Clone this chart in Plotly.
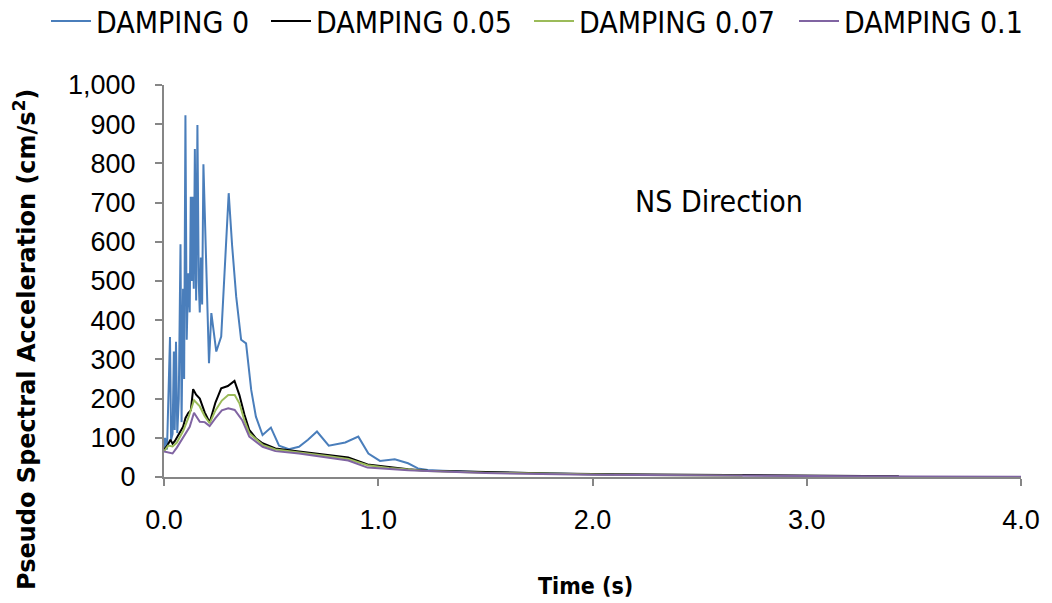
import plotly.graph_objects as go

# ---- data ----
t_d0 = [0.000, 0.005, 0.014, 0.028, 0.033, 0.040, 0.046, 0.050, 0.056, 0.062,
        0.069, 0.077, 0.082, 0.089, 0.094, 0.100, 0.106, 0.113, 0.120, 0.125,
        0.130, 0.134, 0.139, 0.144, 0.150, 0.156, 0.162, 0.167, 0.172, 0.178,
        0.184, 0.198, 0.210, 0.221, 0.244, 0.267, 0.302, 0.318, 0.337, 0.360,
        0.383, 0.407, 0.429, 0.460, 0.499, 0.537, 0.583, 0.630, 0.672, 0.714,
        0.769, 0.846, 0.907, 0.954, 1.008, 1.077, 1.139, 1.185, 1.231, 1.300,
        1.400, 1.500, 1.700, 1.900, 2.100]
a_d0 = [75, 100, 70, 357, 95, 110, 320, 120, 345, 112,
        200, 594, 140, 480, 250, 923, 350, 520, 420, 715,
        500, 715, 480, 837, 450, 898, 500, 420, 560, 440,
        798, 500, 290, 418, 320, 358, 724, 590, 460, 350,
        341, 222, 154, 107, 126, 80, 71, 77, 95, 116,
        80, 88, 103, 60, 41, 45, 35, 22, 18, 16,
        14, 12, 10, 8, 6]

t_d05 = [0.000, 0.015, 0.030, 0.040, 0.051, 0.070, 0.089, 0.100, 0.113, 0.125,
         0.136, 0.150, 0.167, 0.190, 0.213, 0.240, 0.267, 0.298, 0.329, 0.352,
         0.375, 0.398, 0.430, 0.460, 0.520, 0.630, 0.770, 0.860, 0.950, 1.050,
         1.140, 1.230, 1.500, 1.800, 2.100, 2.500, 3.000, 3.430]
a_d05 = [70, 80, 95, 85, 92, 110, 128, 150, 163, 170,
         224, 210, 200, 165, 139, 190, 226, 232, 245, 209,
         160, 120, 98, 86, 73, 65, 56, 50, 32, 25,
         20, 16, 12, 9, 7, 5, 3, 2]

t_d07 = [0.000, 0.020, 0.040, 0.060, 0.090, 0.113, 0.140, 0.167, 0.190, 0.213,
         0.240, 0.270, 0.300, 0.330, 0.352, 0.375, 0.398, 0.460, 0.520, 0.630,
         0.770, 0.860, 0.950, 1.050, 1.140, 1.230, 1.500, 1.800, 2.100, 2.700]
a_d07 = [65, 80, 78, 88, 118, 150, 196, 180, 155, 137,
         170, 195, 209, 209, 188, 145, 112, 82, 70, 63,
         53, 46, 30, 23, 19, 15, 11, 8, 6, 3]

t_d10 = [0.000, 0.020, 0.040, 0.060, 0.090, 0.120, 0.140, 0.167, 0.190, 0.213,
         0.240, 0.270, 0.300, 0.330, 0.365, 0.398, 0.460, 0.520, 0.630, 0.770,
         0.860, 0.950, 1.050, 1.140, 1.230, 1.500, 2.000, 2.500, 3.000, 3.500,
         4.000]
a_d10 = [65, 62, 60, 75, 103, 128, 164, 141, 140, 130,
         150, 170, 175, 171, 145, 103, 77, 66, 60, 48,
         42, 24, 20, 17, 15, 10, 6, 4, 2, 1,
         0.5]

series_names = ["DAMPING 0", "DAMPING 0.05", "DAMPING 0.07", "DAMPING 0.1"]
series_colors = ["#4a7ebb", "#000000", "#9bbb59", "#8064a2"]
y_ticks = [0, 100, 200, 300, 400, 500, 600, 700, 800, 900, 1000]
x_ticks = [0.0, 1.0, 2.0, 3.0, 4.0]

W, H = 1052, 603
L, R, T, B = 164, 25, 85, 126

fig = go.Figure()
series = [(t_d0, a_d0), (t_d05, a_d05), (t_d07, a_d07), (t_d10, a_d10)]
legend_ids = ["legend", "legend2", "legend3", "legend4"]
for (tx, ay), name, col, lid in zip(series, series_names, series_colors, legend_ids):
    fig.add_trace(go.Scatter(x=tx, y=ay, mode="lines", name=name,
                             line=dict(color=col, width=2), legend=lid))

narrow = "DejaVu Sans Condensed, Liberation Sans Narrow, Liberation Sans"
legend_font = dict(family=narrow, size=30, color="#000000")
text_starts = [97, 317, 580, 845]
legends = {}
for lid, xs in zip(legend_ids, text_starts):
    legends[lid] = dict(xref="container", yref="container",
                        x=(xs - 51) / W, y=(H - 21) / H, xanchor="left", yanchor="middle",
                        orientation="h", font=legend_font, bgcolor="rgba(0,0,0,0)",
                        borderwidth=0, itemwidth=40)

tick_font = dict(family="Liberation Sans, Arial", size=27, color="#000000")
fig.update_layout(
    width=W, height=H,
    margin=dict(l=L, r=R, t=T, b=B),
    paper_bgcolor="white", plot_bgcolor="white",
    showlegend=True,
    **legends,
    xaxis=dict(range=[0, 4], tickvals=x_ticks, ticktext=[f"{v:.1f}" for v in x_ticks],
               showgrid=False, zeroline=False, showline=True, linecolor="#868686",
               linewidth=2, ticks="outside", ticklen=7, tickwidth=2, tickcolor="#868686",
               tickfont=tick_font, ticklabelstandoff=11),
    yaxis=dict(range=[0, 1000], tickvals=y_ticks, ticktext=[f"{v:,}" for v in y_ticks],
               showgrid=False, zeroline=False, showline=True, linecolor="#868686",
               linewidth=2, ticks="outside", ticklen=7, tickwidth=2, tickcolor="#868686",
               tickfont=tick_font, ticklabelstandoff=14),
    annotations=[
        dict(text="NS Direction", xref="paper", yref="paper",
             x=(723 - L) / (W - L - R), y=(477 - 201) / (H - T - B),
             showarrow=False, xanchor="center", yanchor="middle",
             font=dict(family=narrow, size=30, color="#000000")),
        dict(text="Pseudo Spectral Acceleration (cm/s<sup>2</sup>)", xref="paper", yref="paper",
             x=(24 - L) / (W - L - R), y=(477 - 339) / (H - T - B), textangle=-90,
             showarrow=False, xanchor="center", yanchor="middle",
             font=dict(family="DejaVu Sans", size=24, color="#000000", weight="bold")),
        dict(text="Time (s)", xref="paper", yref="paper",
             x=(588 - L) / (W - L - R), y=(477 - 586) / (H - T - B),
             showarrow=False, xanchor="center", yanchor="middle",
             font=dict(family=narrow, size=23, color="#000000", weight="bold")),
    ],
)

fig.write_html("out.html")
